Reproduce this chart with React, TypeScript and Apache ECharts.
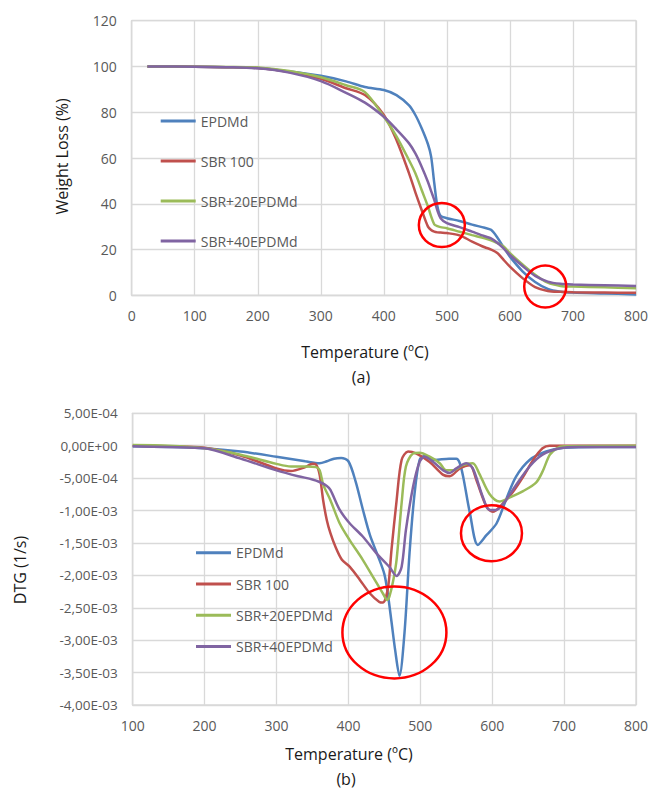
import React, { useEffect, useRef } from "react";
import * as echarts from "echarts";

// ---------- Data (a) TGA: weight loss (%) vs temperature (ºC) ----------
const tgaTemp = [25, 100, 150, 200, 250, 300, 340, 370, 400, 420, 440, 450, 460, 470, 475, 480, 485, 490, 500, 520, 540, 560, 570, 580, 590, 600, 620, 640, 660, 680, 700, 750, 800];
const tgaEPDMd = [100, 99.9, 99.7, 99.3, 97.8, 95.9, 93.5, 91, 89.7, 87.5, 83, 78.8, 73, 66, 60.6, 49, 38.8, 34.7, 33.7, 32.5, 30.9, 29.5, 28.6, 25.3, 21, 16.9, 10.5, 5.8, 2.8, 1.6, 1.2, 0.8, 0.4];
const tgaSBR100 = [100, 99.9, 99.7, 99.3, 97.6, 94.6, 90.5, 87.5, 78.8, 67.9, 53.3, 45, 37.3, 30, 28.5, 27.8, 27.5, 27.4, 27.2, 26.2, 23.5, 21, 20, 18.5, 15.5, 12.5, 7.5, 3.6, 1.9, 1.5, 1.3, 1.2, 1.1];
const tgaSBR20 = [100, 99.9, 99.8, 99.5, 98, 95.3, 91.8, 88.8, 78, 69.5, 59, 53.3, 46, 38.8, 34.5, 31, 30.2, 29.8, 29.3, 27.8, 26.3, 24.9, 24, 22.8, 21.3, 18.4, 13.5, 9, 5.5, 4.1, 3.8, 3.5, 3.1];
const tgaSBR40 = [100, 99.9, 99.7, 99.2, 97.3, 93.6, 88.5, 84.2, 78, 72.5, 66.4, 62, 56.2, 49.5, 45.5, 41.7, 37, 33.7, 31.5, 29.8, 27.8, 25.8, 24.9, 23, 20.5, 17.6, 12.8, 8.5, 6, 5, 4.7, 4.4, 4.1];

// ---------- Data (b) DTG (values in 1e-3 1/s) ----------
const DTG_UNIT = 1e-3;
const dtgTempEPDMd = [100, 150, 200, 250, 300, 340, 360, 370, 380, 390, 400, 410, 420, 430, 440, 450, 455, 460, 465, 471, 478, 485, 492, 499, 506, 520, 540, 550, 555, 560, 569, 580, 592, 606, 619, 633, 652, 675, 700, 750, 800];
const dtgEPDMd = [-0.01, -0.02, -0.04, -0.09, -0.17, -0.24, -0.27, -0.24, -0.2, -0.19, -0.24, -0.55, -0.98, -1.38, -1.67, -1.98, -2.3, -2.72, -3.15, -3.55, -2.89, -1.66, -0.74, -0.22, -0.16, -0.22, -0.2, -0.2, -0.27, -0.5, -1.04, -1.53, -1.38, -1.2, -0.84, -0.48, -0.22, -0.09, -0.03, -0.02, -0.02];
const dtgTempSBR100 = [100, 150, 200, 250, 300, 320, 340, 350, 355, 360, 365, 370, 375, 382, 391, 402, 416, 430, 443, 448, 455, 460, 467, 474, 483, 494, 513, 532, 541, 555, 569, 578, 592, 601, 615, 629, 643, 657, 670, 680, 700, 800];
const dtgSBR100 = [0, -0.01, -0.03, -0.15, -0.35, -0.39, -0.33, -0.28, -0.29, -0.45, -0.85, -1.15, -1.35, -1.56, -1.76, -1.87, -2.07, -2.28, -2.41, -2.42, -2.2, -1.6, -0.85, -0.22, -0.09, -0.12, -0.25, -0.45, -0.47, -0.35, -0.3, -0.53, -0.94, -1.02, -0.89, -0.71, -0.48, -0.22, -0.04, 0, 0, 0];
const dtgTempSBR20 = [100, 150, 200, 250, 300, 320, 340, 355, 360, 365, 375, 388, 402, 420, 434, 448, 454, 457, 462, 467, 474, 480, 490, 499, 513, 527, 536, 546, 559, 573, 582, 596, 610, 624, 643, 661, 670, 680, 690, 700, 800];
const dtgSBR20 = [0.01, 0, -0.04, -0.14, -0.28, -0.32, -0.32, -0.33, -0.38, -0.6, -0.84, -1.2, -1.46, -1.76, -2.02, -2.28, -2.38, -2.33, -2.1, -1.76, -0.89, -0.32, -0.12, -0.11, -0.17, -0.27, -0.38, -0.38, -0.3, -0.27, -0.43, -0.74, -0.86, -0.8, -0.7, -0.57, -0.4, -0.14, -0.04, -0.01, 0];
const dtgTempSBR40 = [100, 150, 200, 250, 300, 330, 350, 360, 370, 375, 388, 402, 420, 439, 457, 467, 474, 480, 490, 499, 506, 518, 532, 541, 550, 564, 573, 587, 596, 606, 619, 633, 652, 670, 694, 720, 800];
const dtgSBR40 = [-0.01, -0.02, -0.04, -0.2, -0.38, -0.47, -0.52, -0.56, -0.62, -0.68, -0.99, -1.2, -1.4, -1.66, -1.87, -2.01, -1.87, -1.3, -0.63, -0.25, -0.17, -0.25, -0.38, -0.42, -0.35, -0.27, -0.35, -0.79, -0.99, -0.99, -0.84, -0.61, -0.32, -0.14, -0.04, -0.02, -0.02];

const seriesNames = ["EPDMd", "SBR 100", "SBR+20EPDMd", "SBR+40EPDMd"];
const colors = ["#4F81BD", "#C0504D", "#9BBB59", "#8064A2"];

// Annotation ellipses: centre in data coords, radii in px
const circlesA = [
  { t: 492, v: 30.7, rx: 23, ry: 22 },
  { t: 656, v: 3.8, rx: 21, ry: 21 },
];
const circlesB = [
  { t: 464, v: -2.88, rx: 52, ry: 46 },
  { t: 599, v: -1.35, rx: 30.5, ry: 28 },
];

const FONT = "'Open Sans', 'Noto Sans', sans-serif";

function fmtSci(v: number): string {
  if (Math.abs(v) < 1e-12) return "0,00E+00";
  const [m, e] = v.toExponential(2).split("e");
  const n = parseInt(e, 10);
  return m.replace(".", ",") + "E" + (n < 0 ? "-" : "+") + String(Math.abs(n)).padStart(2, "0");
}

function zip(xs: number[], ys: number[], k = 1) {
  return xs.map((x, i) => [x, ys[i] * k]);
}

export default function App() {
  const ref = useRef<HTMLDivElement>(null);
  useEffect(() => {
    if (!ref.current) return;
    const chart = echarts.init(ref.current, null, { renderer: "svg" });
    const gridLine = { show: true, lineStyle: { color: "#d9d9d9", width: 1.3 } };
    const axisLabel = { color: "#595959", fontFamily: FONT, fontSize: 14 };
    const tga = [tgaEPDMd, tgaSBR100, tgaSBR20, tgaSBR40];
    const dtgT = [dtgTempEPDMd, dtgTempSBR100, dtgTempSBR20, dtgTempSBR40];
    const dtgV = [dtgEPDMd, dtgSBR100, dtgSBR20, dtgSBR40];
    const series: any[] = [];
    seriesNames.forEach((name, i) => {
      series.push({
        name, type: "line", xAxisIndex: 0, yAxisIndex: 0,
        data: zip(tgaTemp, tga[i]), showSymbol: false, smooth: 0.3,
        lineStyle: { color: colors[i], width: 2.5 }, itemStyle: { color: colors[i] },
      });
    });
    seriesNames.forEach((name, i) => {
      series.push({
        name, type: "line", xAxisIndex: 1, yAxisIndex: 1,
        data: zip(dtgT[i], dtgV[i], DTG_UNIT), showSymbol: false, smooth: 0.3,
        lineStyle: { color: colors[i], width: 2.5 }, itemStyle: { color: colors[i] },
      });
    });
    const legendBase = {
      orient: "vertical", icon: "rect", itemWidth: 35, itemHeight: 3, padding: 0,
      data: seriesNames, selectedMode: false,
      textStyle: { color: "#595959", fontFamily: FONT, fontSize: 14, lineHeight: 20 },
    };
    chart.setOption({
      animation: false,
      backgroundColor: "#ffffff",
      grid: [
        { left: 131.7, right: 14.3, top: 20.7, height: 274.6, show: true, borderColor: "#d9d9d9", borderWidth: 1.3 },
        { left: 132.7, right: 14.3, top: 413.3, height: 291.7, show: true, borderColor: "#d9d9d9", borderWidth: 1.3 },
      ],
      xAxis: [
        { type: "value", gridIndex: 0, min: 0, max: 800, interval: 100, splitLine: gridLine,
          axisLine: { lineStyle: { color: "#d9d9d9", width: 1.3 } }, axisTick: { show: false },
          axisLabel: { ...axisLabel, margin: 13 } },
        { type: "value", gridIndex: 1, min: 100, max: 800, interval: 100, splitLine: gridLine,
          axisLine: { lineStyle: { color: "#d9d9d9", width: 1.3 } }, axisTick: { show: false },
          axisLabel: { ...axisLabel, margin: 13 } },
      ],
      yAxis: [
        { type: "value", gridIndex: 0, min: 0, max: 120, interval: 20, splitLine: gridLine,
          axisLine: { show: true, lineStyle: { color: "#d9d9d9", width: 1.3 } }, axisTick: { show: false },
          axisLabel: { ...axisLabel, margin: 15 } },
        { type: "value", gridIndex: 1, min: -0.004, max: 0.0005, interval: 0.0005, splitLine: gridLine,
          axisLine: { show: true, lineStyle: { color: "#d9d9d9", width: 1.3 } }, axisTick: { show: false },
          axisLabel: { ...axisLabel, fontSize: 13.5, margin: 15, formatter: (v: number) => fmtSci(v) } },
      ],
      legend: [
        { ...legendBase, left: 160.7, top: 111 },
        { ...legendBase, left: 196, top: 542.7, itemGap: 11.3 },
      ],
      series,
    });
    // set legend (a) gap separately
    chart.setOption({ legend: [{ itemGap: 20 }, { itemGap: 11.3 }] });

    const titleStyle = { fill: "#1a1a1a", font: `16px ${FONT}`, align: "center", verticalAlign: "middle" };
    const graphics: any[] = [
      { type: "text", x: 365, y: 352, style: { ...titleStyle, text: "Temperature (ºC)" } },
      { type: "text", x: 361, y: 377, style: { ...titleStyle, text: "(a)" } },
      { type: "text", x: 349, y: 754, style: { ...titleStyle, text: "Temperature (ºC)" } },
      { type: "text", x: 346, y: 779, style: { ...titleStyle, text: "(b)" } },
      { type: "text", x: 62, y: 156.5, rotation: Math.PI / 2, style: { ...titleStyle, text: "Weight Loss (%)" } },
      { type: "text", x: 20, y: 570, rotation: Math.PI / 2, style: { ...titleStyle, text: "DTG (1/s)" } },
    ];
    circlesA.forEach((c) => {
      const p = chart.convertToPixel({ gridIndex: 0 }, [c.t, c.v]) as number[];
      graphics.push({ type: "ellipse", shape: { cx: p[0], cy: p[1], rx: c.rx, ry: c.ry }, z: 100,
        style: { fill: "none", stroke: "#ff0000", lineWidth: 2.5 } });
    });
    circlesB.forEach((c) => {
      const p = chart.convertToPixel({ gridIndex: 1 }, [c.t, c.v * DTG_UNIT]) as number[];
      graphics.push({ type: "ellipse", shape: { cx: p[0], cy: p[1], rx: c.rx, ry: c.ry }, z: 100,
        style: { fill: "none", stroke: "#ff0000", lineWidth: 2.5 } });
    });
    chart.setOption({ graphic: graphics });
    return () => chart.dispose();
  }, []);
  return <div ref={ref} style={{ position: "absolute", left: 0, top: 0, width: 651, height: 790 }} />;
}
